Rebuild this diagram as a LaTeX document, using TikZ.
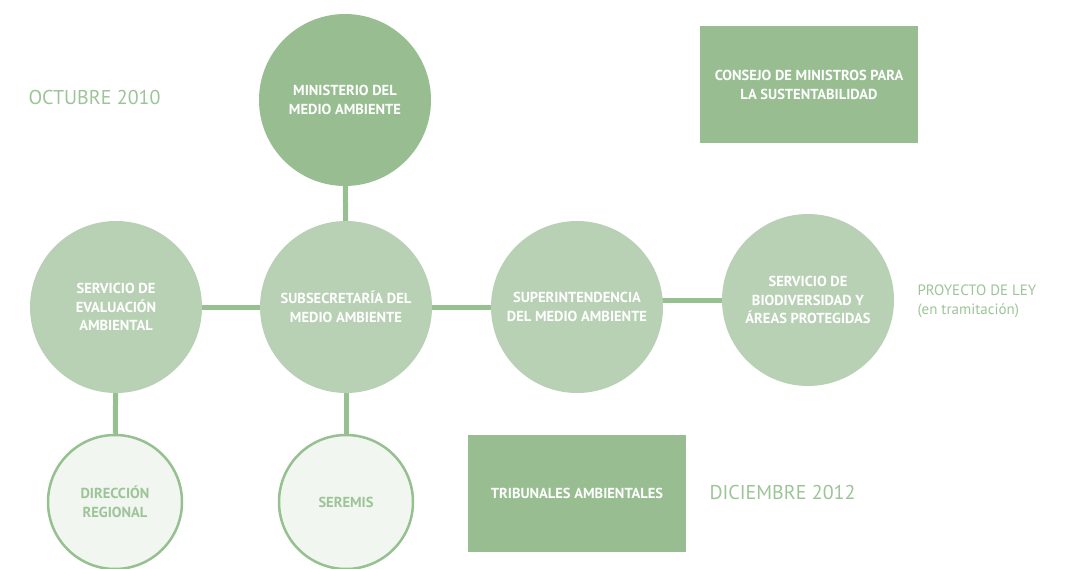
\documentclass[tikz,border=0pt]{standalone}
\usepackage{fontspec}
\setmainfont{PT Sans}
\usetikzlibrary{positioning,backgrounds}
\definecolor{leafdark}{RGB}{151,189,145}
\definecolor{leaflight}{RGB}{184,209,180}
\definecolor{leafpale}{RGB}{241,246,240}
\definecolor{leafline}{RGB}{150,192,144}
\definecolor{leaftext}{RGB}{156,196,151}
\tikzset{
  organ/.style    = {circle, fill=leaflight, minimum size=172pt, inner sep=0pt,
                     text=white, align=center, font=\fontsize{14.5}{18.5}\selectfont\bfseries},
  mainorgan/.style= {organ, fill=leafdark},
  branch/.style   = {circle, draw=leafline, line width=2.5pt, fill=leafpale,
                     minimum size=134pt, inner sep=0pt, text=leaftext,
                     align=center, font=\fontsize{14.5}{18.5}\selectfont\bfseries},
  council/.style  = {rectangle, fill=leafdark, minimum width=218pt, minimum height=117pt,
                     text=white, align=center, font=\fontsize{14.5}{18.5}\selectfont\bfseries},
  datelabel/.style= {text=leaftext, align=left, font=\fontsize{20}{22}\selectfont},
  link/.style     = {draw=leafline, line width=5pt},
}

\begin{document}
\begin{tikzpicture}[x=1pt,y=-1pt]
\useasboundingbox (0,0) rectangle (1078,569);
% ministry and its branches
\node[mainorgan] (min) at (345,100) {MINISTERIO DEL\\MEDIO AMBIENTE};
\node[organ] (sub) at (346,307) {SUBSECRETARÍA DEL\\MEDIO AMBIENTE};
\node[organ] (sea) at (116,307) {SERVICIO DE\\EVALUACIÓN\\AMBIENTAL};
\node[organ] (sma) at (577,307) {SUPERINTENDENCIA\\DEL MEDIO AMBIENTE};
\node[organ] (sbap) at (808,300) {SERVICIO DE\\BIODIVERSIDAD Y\\ÁREAS PROTEGIDAS};
\node[branch] (dir) at (115,502) {DIRECCIÓN\\REGIONAL};
\node[branch] (ser) at (346,502) {SEREMIS};
% boxes
\node[council] (cms) at (809,85) {CONSEJO DE MINISTROS PARA\\LA SUSTENTABILIDAD};
\node[council] (trib) at (577,493) {TRIBUNALES AMBIENTALES};
% dates
\node[datelabel, anchor=west] (oct) at (25,98) {OCTUBRE 2010};
\node[datelabel, anchor=west] (dic) at (706,492) {DICIEMBRE 2012};
\node[datelabel, anchor=west, font=\fontsize{15}{19}\selectfont] (ley) at (914,301)
  {PROYECTO DE LEY\\(en tramitación)};

\begin{scope}[on background layer]
\draw[link] (min) -- (sub);
\draw[link] (sea) -- (sub);
\draw[link] (sub) -- (sma);
\draw[link] (sbap) -- (sbap -| sma);
\draw[link] (sea) -- (dir);
\draw[link] (sub) -- (ser);
\end{scope}
\end{tikzpicture}
\end{document}
